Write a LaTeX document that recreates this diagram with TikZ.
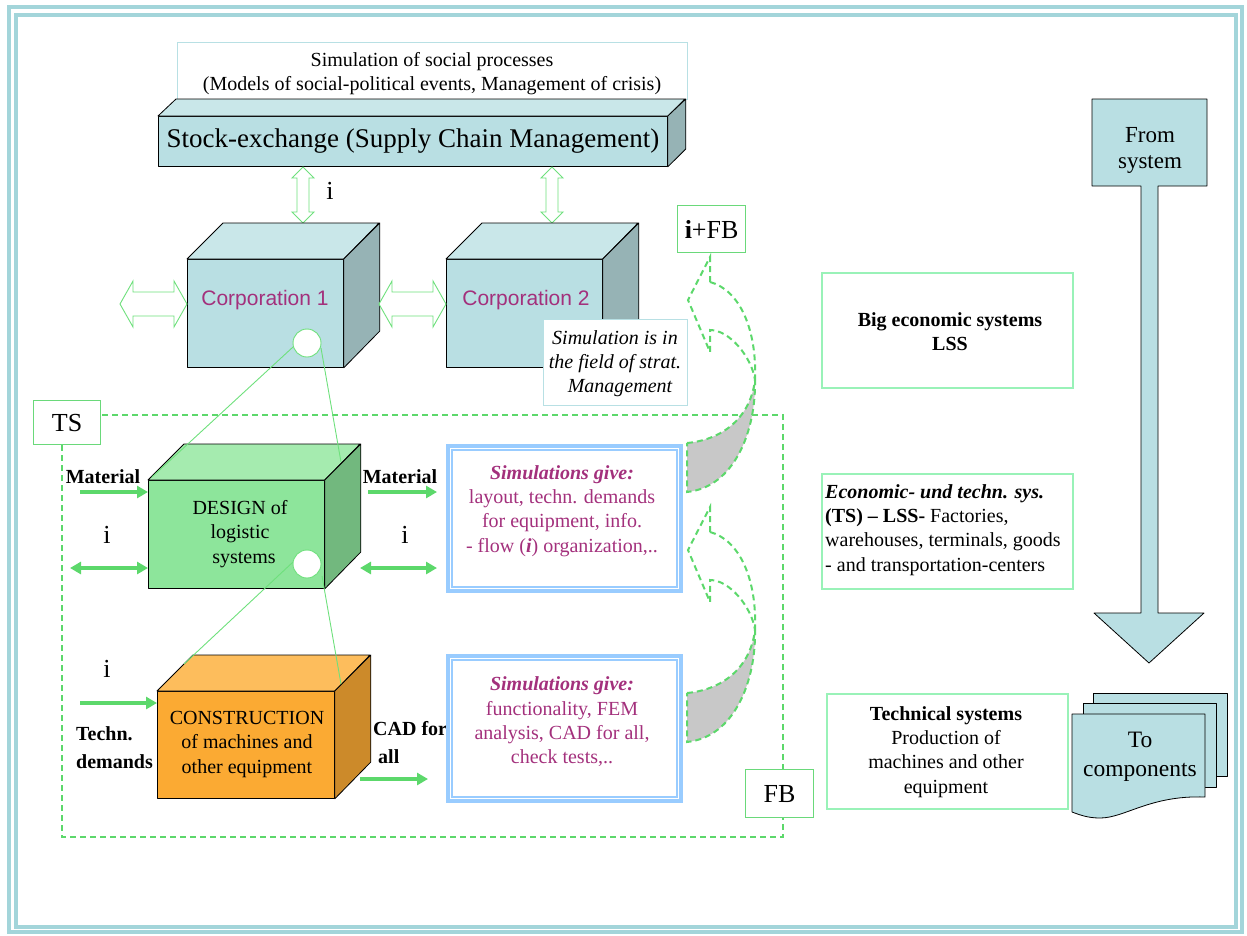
\documentclass[tikz,border=0pt]{standalone}
\usepackage{fontspec}
\setmainfont{Liberation Serif}
\newfontfamily\arialf{Liberation Sans}
\usetikzlibrary{arrows.meta,calc}
\definecolor{frameC}{HTML}{A3D5DA}
\definecolor{tealF}{HTML}{B9DFE3}
\definecolor{tealT}{HTML}{C9E7E9}
\definecolor{tealS}{HTML}{96B3B5}
\definecolor{grnA}{HTML}{5CD86B}
\definecolor{grnL}{HTML}{6EE07C}
\definecolor{paleG}{HTML}{99F2B8}
\definecolor{boxG}{HTML}{6AD97A}
\definecolor{ltBlue}{HTML}{99CCFF}
\definecolor{mag}{HTML}{A3307C}
\definecolor{dsgF}{HTML}{8DE59B}
\definecolor{dsgT}{HTML}{A5EBAF}
\definecolor{dsgS}{HTML}{72B87E}
\definecolor{orF}{HTML}{FBAA33}
\definecolor{orT}{HTML}{FDBD5C}
\definecolor{orS}{HTML}{CC8A2A}
\definecolor{greyF}{HTML}{C8C8C8}
\definecolor{socB}{HTML}{B8E0E4}
\newcommand{\fsz}[2]{\fontsize{#1}{#2}\selectfont}
\tikzset{
  face/.style={draw=black, line width=0.8pt, line join=round},
  front/.style={face, anchor=north west, inner sep=0pt},
  harrow/.style={draw=grnL, line width=0.9pt, fill=white, line join=miter},
  garrow/.style={draw=grnA, line width=3.5pt, -{Triangle[length=11pt,width=12pt]}},
  gdarrow/.style={draw=grnA, line width=3.5pt, {Triangle[length=11pt,width=12pt]}-{Triangle[length=11pt,width=12pt]}},
  link/.style={draw=grnL, line width=0.9pt},
  dashG/.style={draw=grnA, line width=2pt, dash pattern=on 6pt off 4pt},
  ilbl/.style={font=\fsz{26}{30}},
  blbl/.style={font=\bfseries\fsz{20}{28}},
  gbox/.style={draw=boxG, line width=1.2pt, fill=white, anchor=north west, font=\fsz{26}{30}},
  pbox/.style={draw=paleG, line width=1.5pt, anchor=north west},
  simtext/.style={text=mag, align=center, font=\fsz{20}{24.3}},
  corpT/.style={text=mag, font=\arialf\fsz{21}{25}},
  hole/.style={circle, draw=grnL, fill=white, line width=0.9pt, minimum size=28pt},
  pics/hdbl/.style={code={\draw[harrow] (0,0) -- (13,-23) -- (13,-12) -- (54,-12) -- (54,-23) -- (67,0) -- (54,23) -- (54,12) -- (13,12) -- (13,23) -- cycle;}},
  pics/vdbl/.style={code={\draw[harrow] (0,0) -- (11,11) -- (6,11) -- (6,45) -- (11,45) -- (0,56) -- (-11,45) -- (-6,45) -- (-6,11) -- (-11,11) -- cycle;}},
  pics/fbarrow/.style={code={
    \draw[dashG, fill=greyF] (687,443) .. controls (720,440) and (750,420) .. (755,380) .. controls (756,430) and (735,487) .. (687,492) -- cycle;
    \draw[dashG] (710,282) -- (710,257) -- (688,300) -- (710,352) -- (710,330) .. controls (730,330) and (752,358) .. (755,380);
    \draw[dashG] (710,282) .. controls (740,290) and (757,330) .. (755,380);
  }},
}
\begin{document}
\begin{tikzpicture}[x=1pt,y=-1pt, every node/.style={inner sep=0pt}]
\useasboundingbox (0,0) rectangle (1247,935);
% frame
\draw[frameC, line width=4pt] (9,7) rectangle (1242,932);
\draw[frameC, line width=3.5pt] (16,15) rectangle (1236,927);

% social processes
\node[draw=socB, line width=1pt, fill=white, minimum width=510pt, minimum height=57pt, anchor=north west] (social) at (177,42) {};
\node[font=\fsz{20}{24}, align=center] (socialT) at (432,74) {Simulation of social processes\\(Models of social-political events, Management of crisis)};

% stock exchange bar
\node[front, fill=tealF, minimum width=509pt, minimum height=50pt, font=\fsz{27}{32}] (stock) at (158,116) {Stock-exchange (Supply Chain Management)};
\draw[face, fill=tealT] (stock.north west) -- ++(18,-17) -- ++(509,0) -- (stock.north east) -- cycle;
\draw[face, fill=tealS] (stock.north east) -- ++(18,-17) -- ++(0,50) -- (stock.south east) -- cycle;

% vertical hollow arrows
\pic at (303,167) {vdbl};
\pic at (552,167) {vdbl};
\node[ilbl] (iTop) at (330,191) {i};

% corporation 1
\node[front, fill=tealF, minimum width=156pt, minimum height=108pt] (corp1) at (187,259) {};
\draw[face, fill=tealT] (corp1.north west) -- ++(36,-36) -- ++(156,0) -- (corp1.north east) -- cycle;
\draw[face, fill=tealS] (corp1.north east) -- ++(36,-36) -- ++(0,108) -- (corp1.south east) -- cycle;
\node[corpT] (c1t) at (265,300) {Corporation 1};
% corporation 2
\node[front, fill=tealF, minimum width=156pt, minimum height=108pt] (corp2) at (446,259) {};
\draw[face, fill=tealT] (corp2.north west) -- ++(36,-36) -- ++(156,0) -- (corp2.north east) -- cycle;
\draw[face, fill=tealS] (corp2.north east) -- ++(36,-36) -- ++(0,108) -- (corp2.south east) -- cycle;
\node[corpT] (c2t) at (526,300) {Corporation 2};

% horizontal hollow arrows
\pic at (120,304) {hdbl};
\pic at (379,304) {hdbl};

% strategic management note
\node[draw=socB, line width=1pt, fill=white, minimum width=144pt, minimum height=86pt, anchor=north west] (strat) at (543,319) {};
\node[font=\itshape\fsz{20}{24}, align=center] (stratT) at (615,364) {Simulation is in\\the field of strat.\\\hspace*{10pt}Management};

% i+FB box
\node[gbox, minimum width=68pt, minimum height=47pt] (ifb) at (677,205) {\textbf{i}+FB};

% TS dashed frame
\draw[dashG] (62,415) rectangle (783,837);

% curved feedback arrows
\pic at (0,0) {fbarrow};
\pic at (0,250) {fbarrow};

% DESIGN cube
\node[front, fill=dsgF, minimum width=176pt, minimum height=108pt] (design) at (148,480) {};
\draw[face, fill=dsgT] (design.north west) -- ++(36,-36) -- ++(176,0) -- (design.north east) -- cycle;
\draw[face, fill=dsgS] (design.north east) -- ++(36,-36) -- ++(0,108) -- (design.south east) -- cycle;
\node[font=\fsz{20}{24.5}, align=center] (designT) at (240,534) {DESIGN of\\logistic\\\hspace*{8pt}systems};

% CONSTRUCTION cube
\node[front, fill=orF, minimum width=177pt, minimum height=107pt] (constr) at (157,691) {};
\draw[face, fill=orT] (constr.north west) -- ++(36,-36) -- ++(177,0) -- (constr.north east) -- cycle;
\draw[face, fill=orS] (constr.north east) -- ++(36,-36) -- ++(0,107) -- (constr.south east) -- cycle;
\node[font=\fsz{20}{24.5}, align=center] (constrT) at (247,744) {CONSTRUCTION\\of machines and\\other equipment};

% zoom links
\draw[link] (293,347) -- (152,477);
\draw[link] (321,348) -- (341,462);
\draw[link] (293,562) -- (184,664);
\draw[link] (322,576) -- (341,684);
\node[hole] (hole1) at (307,343) {};
\node[hole] (hole2) at (307,564) {};

% material / info arrows
\node[blbl] (matL) at (103,477) {Material};
\draw[garrow] (80,492) -- (design.west |- 0,492);
\node[ilbl] (iL1) at (107,535) {i};
\draw[gdarrow] (70,568) -- (design.west |- 0,568);
\node[blbl] (matR) at (400,477) {Material};
\draw[garrow] (368,492) -- (437,492);
\node[ilbl] (iR1) at (405,535) {i};
\draw[gdarrow] (360,568) -- (437,568);
\node[ilbl] (iL2) at (107,669) {i};
\draw[garrow] (80,703) -- (constr.west |- 0,703);
\node[blbl, anchor=west] (techn) at (76,734) {Techn.};
\node[blbl, anchor=west] (demands) at (76,762) {demands};
\node[blbl, anchor=west] (cad) at (373,729) {CAD for};
\node[blbl, anchor=west] (cadall) at (378,757) {all};
\draw[garrow] (360,779) -- (428,779);

% simulation boxes
\node[draw=ltBlue, line width=4pt, minimum width=233pt, minimum height=145pt, anchor=north west] (sim1) at (446,444) {};
\draw[ltBlue, line width=1.5pt] ($(sim1.north west)+(6,6)$) rectangle ($(sim1.south east)+(-6,-6)$);
\node[simtext] (sim1T) at (562,511) {\textbf{\textit{Simulations give:}}\\layout, techn. demands\\for equipment, info.\\- flow (\textbf{\textit{i}}) organization,..};
\node[draw=ltBlue, line width=4pt, minimum width=233pt, minimum height=145pt, anchor=north west] (sim2) at (446,654) {};
\draw[ltBlue, line width=1.5pt] ($(sim2.north west)+(6,6)$) rectangle ($(sim2.south east)+(-6,-6)$);
\node[simtext] (sim2T) at (562,722) {\textbf{\textit{Simulations give:}}\\functionality, FEM\\analysis, CAD for all,\\check tests,..};

% TS and FB labels
\node[gbox, minimum width=67pt, minimum height=44pt] (ts) at (33,400) {TS};
\node[gbox, minimum width=68pt, minimum height=48pt] (fb) at (745,769) {FB};

% right column
\node[pbox, minimum width=251pt, minimum height=115pt] (big) at (821,272) {};
\node[font=\bfseries\fsz{20}{24}, align=center] (bigT) at (950,332) {Big economic systems\\LSS};
\node[pbox, minimum width=251pt, minimum height=115pt] (econ) at (821,473) {};
\node[font=\fsz{20}{24.3}, align=left, anchor=west] (econT) at (825,530) {\textbf{\textit{Economic- und techn. sys.}}\\\textbf{(TS) – LSS-} Factories,\\warehouses, terminals, goods\\- and transportation-centers};
\node[pbox, minimum width=241pt, minimum height=115pt] (tech) at (826,693) {};
\node[font=\fsz{20}{24.3}, align=center] (techT) at (946,752) {\textbf{Technical systems}\\Production of\\machines and other\\equipment};

% from system arrow
\draw[face, fill=tealF] (1092,99) -- (1207,99) -- (1207,186) -- (1158,186) -- (1158,613) -- (1204,613) -- (1149,663) -- (1094,613) -- (1141,613) -- (1141,186) -- (1092,186) -- cycle;
\node[font=\fsz{23}{26}, align=center] (fromT) at (1150,150) {From\\system};

% to components (multi-document)
\draw[face, fill=tealF] (1093,693) rectangle (1227,776);
\draw[face, fill=tealF] (1083,703) rectangle (1216,787);
\draw[face, fill=tealF] (1072,714) -- (1205,714) -- (1205,797) .. controls (1150,795) and (1125,818) .. (1100,818) .. controls (1088,818) and (1080,815) .. (1072,812) -- cycle;
\node[font=\fsz{23.5}{29}, align=center] (toT) at (1140,757) {To\\components};
\end{tikzpicture}
\end{document}
